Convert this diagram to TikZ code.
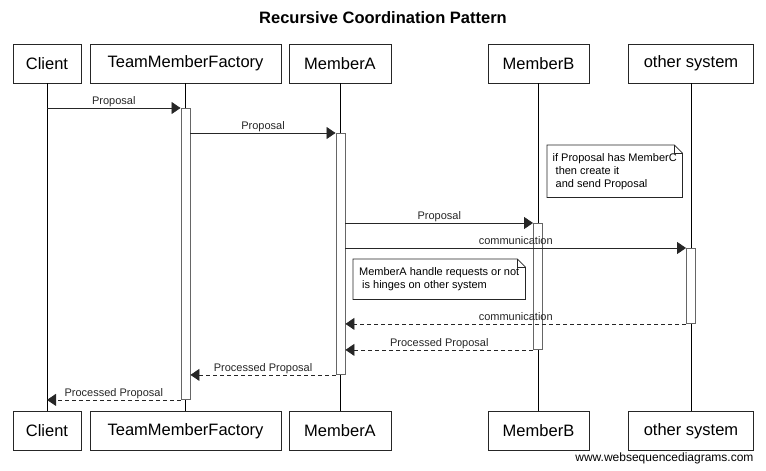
\documentclass[tikz,border=0pt]{standalone}
\usepackage{fontspec}
\setmainfont{Liberation Sans}
\usetikzlibrary{arrows.meta}
\begin{document}
\begin{tikzpicture}
[x=1pt,y=-1pt,
  actorDecorate/.style={draw=black!85,line width=0.9pt,minimum height=39pt,inner sep=0pt,
    font=\fontsize{16.5}{18}\selectfont},
  lifeDecorate/.style={-,black,line width=0.8pt},
  barDecorate/.style={draw=black!60,fill=white,line width=0.9pt,minimum width=9pt,inner sep=0pt,anchor=north},
  callDecorate/.style={-{Triangle[length=9pt,width=12pt]},black!85,line width=0.8pt},
  backDecorate/.style={callDecorate,dash pattern=on 4pt off 3pt},
  labelDecorate/.style={font=\fontsize{11}{13}\selectfont,text=black!85,above,inner sep=1pt,
    text height=8pt,text depth=2.5pt},
  noteDecorate/.style={font=\fontsize{11}{13}\selectfont,align=left,inner xsep=5pt,inner ysep=0pt,
    anchor=north west,fill=white},
  noteLine/.style={draw=black!85,line width=0.8pt}]
\useasboundingbox (0,0) rectangle (766,471);
%% title
\node (title) at (383,18) [font=\bfseries\fontsize{16.5}{18}\selectfont] {Recursive Coordination Pattern};
%% participants and lifelines
\foreach \nodename/\x/\w/\caption in {
  client/47/68/Client, factory/185.5/191/TeamMemberFactory, memberA/340/102/MemberA,
  memberB/538.5/101/MemberB, other/691/125/other system}
{
  \node (\nodename Top) at (\x,63.5) [actorDecorate,minimum width=\w pt] {\caption};
  \node (\nodename Bot) at (\x,431) [actorDecorate,minimum width=\w pt] {\caption};
  \draw[lifeDecorate] (\nodename Top) -- (\nodename Bot);
}
%% activation bars
\node (factoryBar) at (185.5,108) [barDecorate,minimum height=291pt] {};
\node (memberABar) at (340.5,133) [barDecorate,minimum height=241pt] {};
\node (memberBBar) at (538,223) [barDecorate,minimum height=126pt] {};
\node (otherBar) at (691,248) [barDecorate,minimum height=75pt] {};
%% messages
\path
\foreach \startnode/\endnode/\caption in {
  factoryBar.north west -| clientTop/factoryBar.north west/Proposal,
  memberABar.north west -| factoryBar.east/memberABar.north west/Proposal,
  memberBBar.north west -| memberABar.east/memberBBar.north west/Proposal,
  otherBar.north west -| memberABar.east/otherBar.north west/communication}
{
  (\startnode) edge[callDecorate] node[labelDecorate] {\caption} (\endnode)
}
\foreach \startnode/\endnode/\caption in {
  otherBar.south west/otherBar.south west -| memberABar.east/communication,
  memberBBar.south west/memberBBar.south west -| memberABar.east/Processed Proposal,
  memberABar.south west/memberABar.south west -| factoryBar.east/Processed Proposal,
  factoryBar.south west/factoryBar.south west -| clientTop/Processed Proposal}
{
  (\startnode) edge[backDecorate] node[labelDecorate] {\caption} (\endnode)
};
%% notes
\node (noteMemberB) at (547,145) [noteDecorate,minimum width=135pt,minimum height=52pt]
  {if Proposal has MemberC\\ ~then create it\\ ~and send Proposal};
\node (noteMemberA) at (353,259) [noteDecorate,minimum width=172pt,minimum height=40pt]
  {MemberA handle requests or not\\ ~is hinges on other system};
\foreach \notename in {noteMemberB, noteMemberA}
{
  \draw[noteLine] (\notename.north west) -- ([xshift=-8pt]\notename.north east)
    -- ([yshift=-8pt]\notename.north east) -- (\notename.south east)
    -- (\notename.south west) -- cycle;
  \draw[noteLine] ([xshift=-8pt]\notename.north east)
    -- ([xshift=-8pt,yshift=-8pt]\notename.north east) -- ([yshift=-8pt]\notename.north east);
}
%% credit
\node (credit) at (757,458) [anchor=east,font=\fontsize{12}{14}\selectfont] {www.websequencediagrams.com};
\end{tikzpicture}
\end{document}
